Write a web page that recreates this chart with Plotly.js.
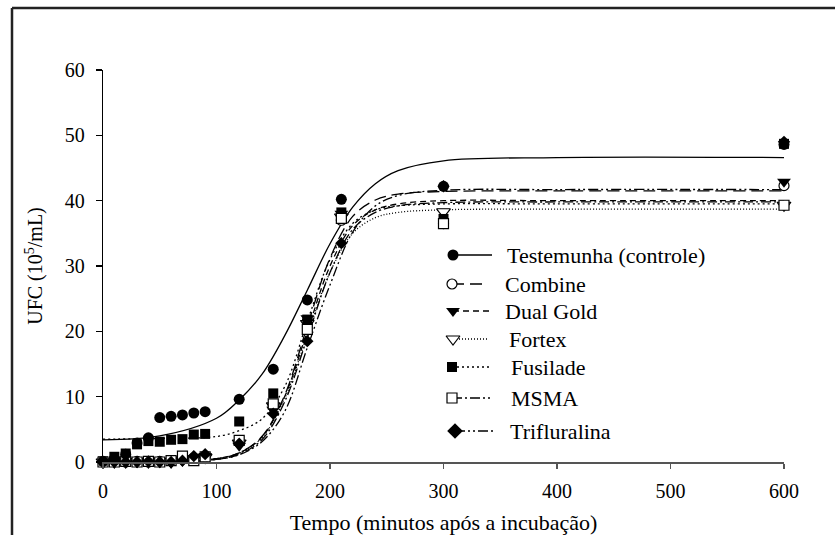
<!DOCTYPE html>
<html>
<head>
<meta charset="utf-8">
<script src="https://cdn.plot.ly/plotly-3.0.1.min.js"></script>
<style>html,body{margin:0;padding:0;background:#fff;}#chart{width:835px;height:535px;}</style>
</head>
<body>
<div id="chart"></div>
<script>
// ---- observed data (minutes after incubation, UFC x10^5/mL) ----
var time = [0, 10, 20, 30, 40, 50, 60, 70, 80, 90, 120, 150, 180, 210, 300, 600];
var testemunha   = [0.1, 0.5, 1.2, 2.9, 3.7, 6.8, 7.0, 7.2, 7.5, 7.7, 9.6, 14.2, 24.8, 40.2, 42.2, 48.6];
var combine      = [0, 0.1, 0, 0.1, 0, 0.1, 0.2, 0.5, 0.6, 0.8, 3.0, 8.5, 21.5, 37.0, 36.5, 42.3];
var dualGold     = [0, 0, 0.1, 0, 0.1, 0, 0.1, 0.4, 0.5, 0.9, 2.5, 8.0, 22.0, 38.0, 38.3, 42.9];
var fortex       = [0, 0, 0, 0.1, 0, 0.1, 0, 0.3, 0.5, 0.7, 2.9, 8.6, 21.2, 37.5, 38.3, 39.3];
var fusilade     = [0.1, 0.8, 1.3, 2.7, 3.2, 3.1, 3.4, 3.5, 4.2, 4.3, 6.2, 10.5, 21.8, 38.2, 37.2, 48.7];
var msma         = [0, 0, 0.1, 0, 0.1, 0, 0.2, 0.9, 0.2, 0.8, 3.3, 8.9, 20.3, 37.3, 36.5, 39.3];
var trifluralina = [0, 0, 0, 0, 0.1, 0, 0, 0.2, 0.9, 1.2, 2.8, 7.4, 18.5, 33.5, 42.2, 49.0];

// ---- fitted curves ----
var curveTime = [0, 50, 100, 120, 140, 160, 180, 200, 220, 240, 260, 300, 400, 600];
var fitTestemunha   = [3.4, 4.0, 6.7, 9.5, 13.4, 19.3, 26.3, 33.4, 39.0, 42.6, 44.6, 46.1, 46.6, 46.6];
var fitCombine      = [0, 0, 0.5, 1.4, 3.9, 10.2, 20.8, 31.2, 37.6, 40.1, 41.0, 41.4, 41.5, 41.5];
var fitDualGold     = [0, 0, 0.5, 1.4, 3.8, 10.0, 20.0, 30.0, 36.2, 38.6, 39.5, 40.0, 40.0, 40.0];
var fitFortex       = [0, 0, 0.5, 1.3, 3.7, 9.7, 19.4, 29.0, 35.0, 37.4, 38.2, 38.6, 38.7, 38.7];
var fitFusilade     = [3.5, 3.6, 3.9, 4.8, 6.6, 11.5, 21.5, 31.0, 36.5, 38.6, 39.2, 39.5, 39.5, 39.5];
var fitMsma         = [0, 0, 0.4, 1.2, 3.4, 9.2, 19.0, 29.0, 35.6, 38.2, 39.2, 39.7, 39.8, 39.8];
var fitTrifluralina = [0, 0, 0.4, 1.1, 3.1, 7.7, 17.5, 27.1, 35.2, 39.2, 40.8, 41.6, 41.7, 41.7];

var seriesNames = ["Testemunha (controle)", "Combine", "Dual Gold", "Fortex", "Fusilade", "MSMA", "Trifluralina"];
var xTicks = [0, 100, 200, 300, 400, 500, 600];
var yTicks = [0, 10, 20, 30, 40, 50, 60];

var SERIF = "Liberation Serif, Times New Roman, Times, serif";

// ---- styles ----
var styles = [
  {obs: testemunha,   fit: fitTestemunha,   sym: "circle",        fill: "#000", size: 11, dash: "solid"},
  {obs: combine,      fit: fitCombine,      sym: "circle",        fill: "#fff", size: 10, dash: "12px,6px"},
  {obs: dualGold,     fit: fitDualGold,     sym: "triangle-down", fill: "#000", size: 12, dash: "6px,4px"},
  {obs: fortex,       fit: fitFortex,       sym: "triangle-down", fill: "#fff", size: 12, dash: "1px,2px"},
  {obs: fusilade,     fit: fitFusilade,     sym: "square",        fill: "#000", size: 10, dash: "2px,3px"},
  {obs: msma,         fit: fitMsma,         sym: "square",        fill: "#fff", size: 10, dash: "10px,3px,2px,3px"},
  {obs: trifluralina, fit: fitTrifluralina, sym: "diamond",       fill: "#000", size: 9.5, dash: "10px,3px,2px,3px,2px,3px"}
];
var drawOrder = [1, 2, 3, 4, 5, 6, 0];
// legend placement in pixel space (x2 / y2 axes map to pixels)
var legendRowsY = [255, 284, 311, 339, 367, 398, 431];
var legendMarkX = [453, 452, 453, 453, 452, 452, 455];
var legendLineEnd = [492, 486, 490, 488, 490, 490, 493];
var legendTextX = [505, 503, 503, 507, 509, 509, 508];

var traces = [];
styles.forEach(function (s) {
  traces.push({
    x: curveTime, y: s.fit, mode: "lines", type: "scatter", showlegend: false, hoverinfo: "skip",
    line: {color: "#000", width: 1.3, dash: s.dash, shape: "spline", smoothing: 1.0}
  });
});
drawOrder.forEach(function (i) {
  var s = styles[i];
  traces.push({
    x: time, y: s.obs, mode: "markers", type: "scatter", name: seriesNames[i], showlegend: false,
    cliponaxis: false,
    marker: {symbol: s.sym, size: s.size, color: s.fill, line: {color: "#000", width: s.fill === "#fff" ? 1.2 : 0}}
  });
});
var annotations = [];
styles.forEach(function (s, i) {
  traces.push({
    x: [legendMarkX[i], legendLineEnd[i]], y: [legendRowsY[i], legendRowsY[i]], xaxis: "x2", yaxis: "y2",
    mode: "lines", type: "scatter", showlegend: false, hoverinfo: "skip", cliponaxis: false,
    line: {color: "#000", width: 1.3, dash: s.dash}
  });
  traces.push({
    x: [legendMarkX[i]], y: [legendRowsY[i]], xaxis: "x2", yaxis: "y2",
    mode: "markers", type: "scatter", showlegend: false, hoverinfo: "skip", cliponaxis: false,
    marker: {symbol: s.sym, size: s.sym === "diamond" ? 12 : s.size, color: s.fill, line: {color: "#000", width: s.fill === "#fff" ? 1.2 : 0}}
  });
  annotations.push({
    x: legendTextX[i], y: legendRowsY[i], xref: "x2", yref: "y2", text: seriesNames[i], showarrow: false,
    xanchor: "left", yanchor: "middle", font: {family: SERIF, size: 22, color: "#000"}
  });
});

var L = 103, R = 51, T = 70, B = 73;
var layout = {
  width: 835, height: 535,
  margin: {l: L, r: R, t: T, b: B, pad: 0},
  paper_bgcolor: "#fff", plot_bgcolor: "#fff",
  showlegend: false,
  font: {family: SERIF, color: "#000"},
  xaxis: {
    range: [0, 600], tickvals: xTicks, ticktext: xTicks.map(String),
    showgrid: false, zeroline: false, showline: true, linecolor: "#555", linewidth: 1.6,
    ticks: "outside", ticklen: 5, tickwidth: 1.5, tickcolor: "#555", ticklabelstandoff: 5,
    tickfont: {family: SERIF, size: 20, color: "#000"},
    title: {text: "Tempo (minutos após a incubação)", font: {family: SERIF, size: 22, color: "#000"}, standoff: 18},
    automargin: false
  },
  yaxis: {
    range: [0, 60], tickvals: yTicks, ticktext: yTicks.map(String),
    showgrid: false, zeroline: false, showline: true, linecolor: "#000", linewidth: 1.3,
    ticks: "outside", ticklen: 6, tickwidth: 1.3, tickcolor: "#000", ticklabelstandoff: 7,
    tickfont: {family: SERIF, size: 20, color: "#000"},
    title: {text: "UFC (10<sup>5</sup>/mL)", font: {family: SERIF, size: 20, color: "#000"}, standoff: 16},
    automargin: false
  },
  xaxis2: {overlaying: "x", range: [L, 835 - R], visible: false, fixedrange: true},
  yaxis2: {overlaying: "y", range: [535 - B, T], visible: false, fixedrange: true},
  annotations: annotations,
  shapes: [
    {type: "line", xref: "paper", yref: "paper", x0: (12 - L) / (835 - L - R), x1: 1 + R / (835 - L - R),
     y0: (535 - B - 8) / (535 - T - B), y1: (535 - B - 8) / (535 - T - B), line: {color: "#222", width: 2.5}},
    {type: "line", xref: "paper", yref: "paper", x0: (12 - L) / (835 - L - R), x1: (12 - L) / (835 - L - R),
     y0: (535 - B - 8) / (535 - T - B), y1: -B / (535 - T - B), line: {color: "#222", width: 2.5}}
  ]
};

Plotly.newPlot("chart", traces, layout, {staticPlot: true, displayModeBar: false});
</script>
</body>
</html>
